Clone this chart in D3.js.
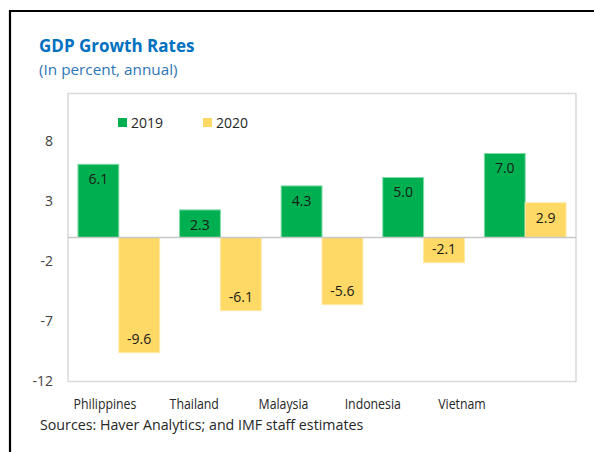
<!DOCTYPE html>
<html>
<head>
<meta charset="utf-8">
<script src="https://cdn.jsdelivr.net/npm/d3@7"></script>
<style>
  html, body { margin: 0; padding: 0; background: #fff; }
  svg { display: block; font-family: "Open Sans", "Noto Sans", sans-serif; }
</style>
</head>
<body>
<svg id="chart"></svg>
<script>
var countries = ["Philippines", "Thailand", "Malaysia", "Indonesia", "Vietnam"];
var years = ["2019", "2020"];
var growth2019 = [6.1, 2.3, 4.3, 5.0, 7.0];
var growth2020 = [-9.6, -6.1, -5.6, -2.1, 2.9];
var yTicks = [8, 3, -2, -7, -12];

var width = 594, height = 452;
var colors = {"2019": "#00B050", "2020": "#FFD966"};
var strokes = {"2019": "#7fdca8", "2020": "#ffe9a8"};

// plain hyphen for negatives, like the original
var fmtVal = function(v){ return d3.format(".1f")(v).replace("\u2212", "-"); };
var fmtTick = function(v){ return String(v); };

var svg = d3.select("#chart")
  .attr("width", width)
  .attr("height", height);

// outer frame (left and top only)
svg.append("path")
  .attr("d", "M10,452 V11 H594")
  .attr("fill", "none")
  .attr("stroke", "#000")
  .attr("stroke-width", 2.2);

// titles
svg.append("text")
  .attr("x", 39).attr("y", 52)
  .attr("fill", "#0070C0")
  .style("font-size", "17px")
  .style("font-weight", "bold")
  .text("GDP Growth Rates");

svg.append("text")
  .attr("x", 39).attr("y", 75)
  .attr("fill", "#2E75B6")
  .style("font-size", "15.3px")
  .text("(In percent, annual)");

var plot = {left: 68, right: 576, top: 93.5, bottom: 381.5};

// plot box
svg.append("rect")
  .attr("x", plot.left).attr("y", plot.top)
  .attr("width", plot.right - plot.left)
  .attr("height", plot.bottom - plot.top)
  .attr("fill", "none")
  .attr("stroke", "#d9d9d9")
  .attr("stroke-width", 1.5);

var y = d3.scaleLinear()
  .domain([-12, 12])
  .range([plot.bottom, plot.top]);

var x0 = d3.scaleBand()
  .domain(countries)
  .range([plot.left, plot.right])
  .paddingInner(0.196)
  .paddingOuter(0.098);

var x1 = d3.scaleBand()
  .domain(years)
  .range([0, x0.bandwidth()]);

// category labels sit on their own spacing in the reference
var xLabel = d3.scalePoint()
  .domain(countries)
  .range([105, 462]);

var rows = countries.map(function(c, i){
  return {country: c, values: [
    {year: "2019", value: growth2019[i]},
    {year: "2020", value: growth2020[i]}
  ]};
});

// y axis labels
var yAxis = d3.axisLeft(y)
  .tickValues(yTicks)
  .tickFormat(fmtTick)
  .tickSize(0)
  .tickPadding(0);

var yG = svg.append("g")
  .attr("transform", "translate(53,0)")
  .call(yAxis);
yG.select(".domain").remove();
yG.selectAll("text")
  .attr("fill", "#404040")
  .style("font-size", "14px")
  .style("font-family", "'Open Sans', sans-serif");

// bars
var groups = svg.append("g").selectAll("g")
  .data(rows)
  .join("g")
  .attr("transform", function(d){ return "translate(" + x0(d.country) + ",0)"; });

groups.selectAll("rect")
  .data(function(d){ return d.values; })
  .join("rect")
  .attr("x", function(d){ return x1(d.year); })
  .attr("y", function(d){ return y(Math.max(0, d.value)); })
  .attr("width", x1.bandwidth())
  .attr("height", function(d){ return Math.abs(y(d.value) - y(0)); })
  .attr("fill", function(d){ return colors[d.year]; })
  .attr("stroke", function(d){ return strokes[d.year]; })
  .attr("stroke-width", 1);

// zero line
svg.append("line")
  .attr("x1", plot.left).attr("x2", plot.right)
  .attr("y1", y(0)).attr("y2", y(0))
  .attr("stroke", "#c8c8c8")
  .attr("stroke-width", 1.3);

// value labels, inside the bar end
groups.selectAll("text")
  .data(function(d){ return d.values; })
  .join("text")
  .attr("x", function(d){ return x1(d.year) + x1.bandwidth() / 2; })
  .attr("y", function(d){ return d.value >= 0 ? y(d.value) + 15 : y(d.value) - 14; })
  .attr("dy", "0.35em")
  .attr("text-anchor", "middle")
  .attr("fill", "#1a1a1a")
  .style("font-size", "14px")
  .text(function(d){ return fmtVal(d.value); });

// category labels (the original font is narrower, so squeeze horizontally)
svg.append("g").selectAll("text")
  .data(countries)
  .join("text")
  .attr("transform", function(d){ return "translate(" + xLabel(d) + ",409) scale(0.85,1)"; })
  .attr("text-anchor", "middle")
  .attr("fill", "#262626")
  .style("font-size", "14.5px")
  .text(function(d){ return d; });

// legend
var legend = svg.append("g").selectAll("g")
  .data(years)
  .join("g")
  .attr("transform", function(d, i){ return "translate(" + (118 + i * 85) + ",118)"; });

legend.append("rect")
  .attr("width", 9).attr("height", 9)
  .attr("fill", function(d){ return colors[d]; });

legend.append("text")
  .attr("x", 13).attr("y", 10)
  .attr("fill", "#262626")
  .style("font-size", "14px")
  .text(function(d){ return d; });

// source note
svg.append("text")
  .attr("transform", "translate(40,430) scale(0.95,1)")
  .attr("fill", "#262626")
  .style("font-size", "15px")
  .text("Sources: Haver Analytics; and IMF staff estimates");
</script>
</body>
</html>
